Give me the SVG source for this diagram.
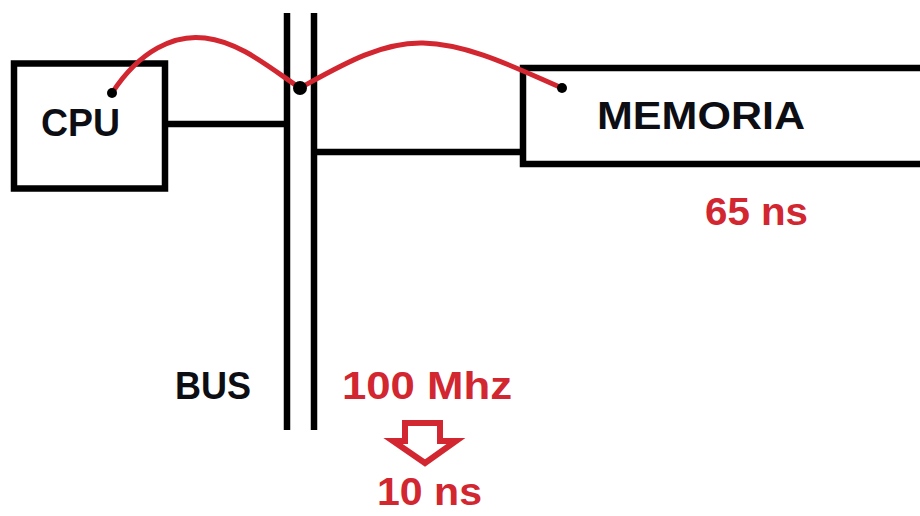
<svg xmlns="http://www.w3.org/2000/svg" width="920" height="516" viewBox="0 0 920 516">
<style>
.blk{fill:none;stroke:#000;stroke-width:6.5}
.red{fill:none;stroke:#d22630;stroke-width:5;stroke-linecap:round}
.t{font-family:"Liberation Sans",Arial,sans-serif;font-weight:bold;font-size:38px}
.tb{fill:#0d0d14}
.tr{fill:#d22630}
</style>
<rect width="920" height="516" fill="#fff"/>
<g id="cpu">
<rect class="blk" x="14" y="63.5" width="151" height="125"/>
<text class="t tb" x="41" y="136" textLength="79" lengthAdjust="spacingAndGlyphs">CPU</text>
</g>
<g id="bus">
<line class="blk" x1="287" y1="13" x2="287" y2="430"/>
<line class="blk" x1="314" y1="13" x2="314" y2="430"/>
<text class="t tb" x="175" y="399" textLength="76" lengthAdjust="spacingAndGlyphs">BUS</text>
</g>
<g id="memoria">
<path class="blk" d="M930 68 H523 V164 H930"/>
<text class="t tb" x="597" y="129" font-size="40" textLength="208" lengthAdjust="spacingAndGlyphs">MEMORIA</text>
<text class="t tr" x="705" y="225" textLength="103" lengthAdjust="spacingAndGlyphs">65 ns</text>
</g>
<g id="freq">
<text class="t tr" x="342" y="399" textLength="170" lengthAdjust="spacingAndGlyphs">100 Mhz</text>
<path d="M405 423 H440 V441 H456 L425 463 L393 441 H405 Z" fill="#fff" stroke="#d22630" stroke-width="6" stroke-linejoin="miter"/>
<text class="t tr" x="377" y="505" font-size="37" textLength="105" lengthAdjust="spacingAndGlyphs">10 ns</text>
</g>
<g id="connectors">
<line class="blk" x1="165" y1="124" x2="287" y2="124"/>
<line class="blk" x1="314" y1="152" x2="523" y2="152"/>
<path class="red" d="M112 93 C140 50 175 34 205 38 C240 42 270 68 300 88"/>
<path class="red" d="M300 88 C340 66 380 42 423 43 C470 44 520 70 562 88"/>
<circle cx="112" cy="93" r="5" fill="#000"/>
<circle cx="300" cy="88" r="7" fill="#000"/>
<circle cx="562" cy="88" r="5" fill="#000"/>
</g>
</svg>
